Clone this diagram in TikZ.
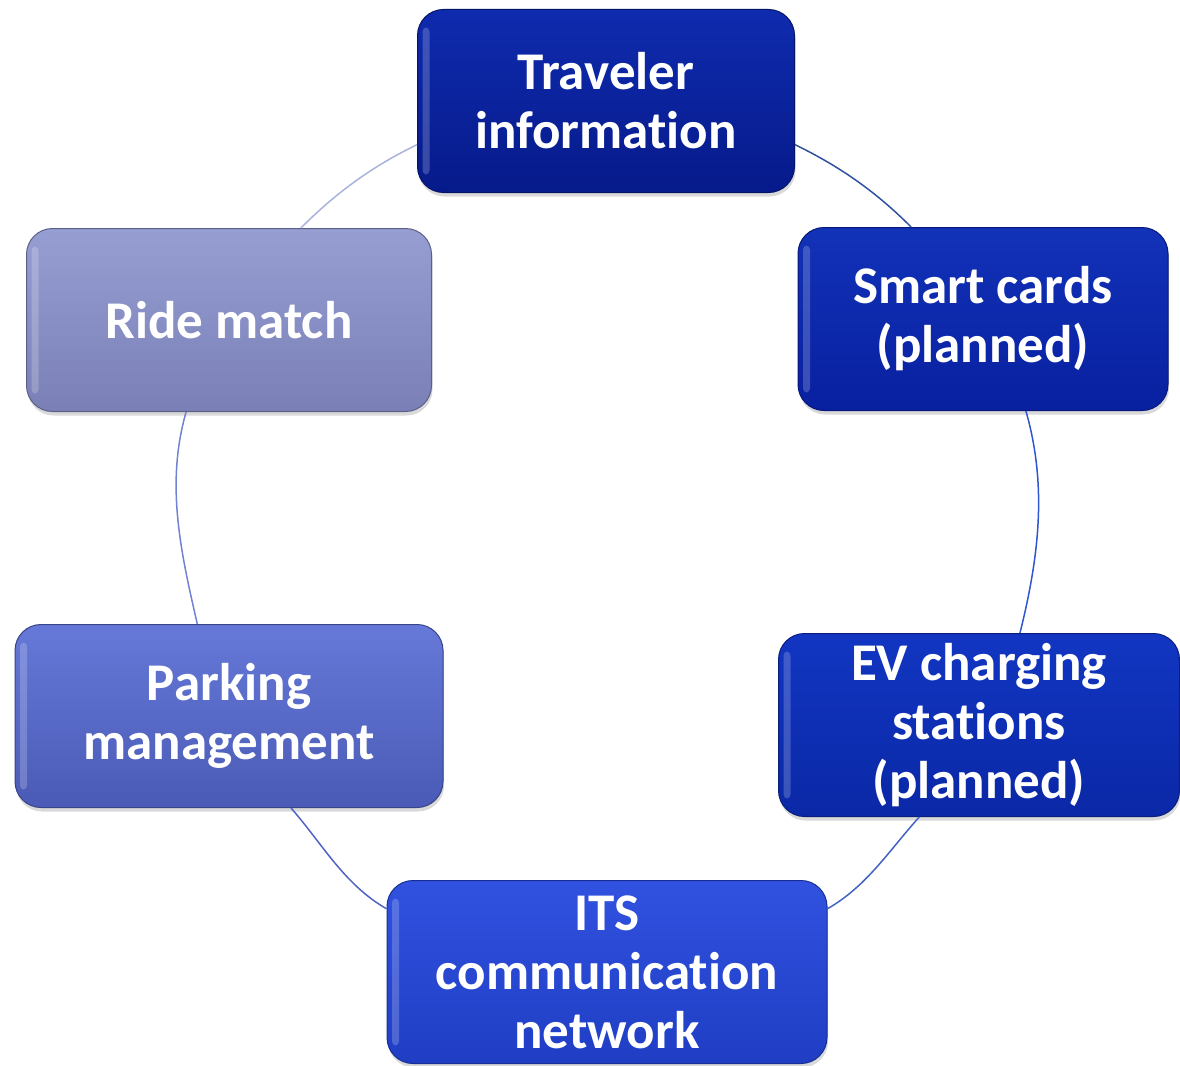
\documentclass[tikz,border=0pt]{standalone}
\usepackage{fontspec}
\setmainfont{Carlito}[RawFeature={-liga}]
\usetikzlibrary{positioning,shadows}

\definecolor{travtop}{HTML}{0F2BAE}
\definecolor{travbot}{HTML}{061A8A}
\definecolor{smarttop}{HTML}{1232B8}
\definecolor{smartbot}{HTML}{0820A0}
\definecolor{evtop}{HTML}{1236C2}
\definecolor{evbot}{HTML}{0A28A6}
\definecolor{itstop}{HTML}{3152E0}
\definecolor{itsbot}{HTML}{1F3EC4}
\definecolor{parktop}{HTML}{6679D8}
\definecolor{parkbot}{HTML}{4A5AB6}
\definecolor{ridetop}{HTML}{969ED2}
\definecolor{ridebot}{HTML}{7A80B6}
\definecolor{ringa}{HTML}{3050A0}
\definecolor{ringb}{HTML}{2F55D0}
\definecolor{ringc}{HTML}{4262C4}
\definecolor{ringd}{HTML}{5064C2}
\definecolor{ringe}{HTML}{7282D2}
\definecolor{ringf}{HTML}{AAB2DC}

\tikzset{
  cyclebox/.style 2 args={rectangle, rounded corners=26pt, draw=#2!75!black, line width=1pt,
    top color=#1, bottom color=#2, text=white, align=center,
    font=\fontsize{53}{59}\selectfont\bfseries,
    minimum height=183pt, inner sep=0pt,
    drop shadow={shadow xshift=1pt, shadow yshift=-4pt, opacity=.3},
    path picture={\fill[white, opacity=.2, rounded corners=4pt]
      ([xshift=5pt, yshift=-18pt]path picture bounding box.north west) rectangle
      ([xshift=12pt, yshift=18pt]path picture bounding box.south west);}},
  ring/.style={draw=#1, line width=1.5pt, looseness=0.9},
}

\begin{document}
\begin{tikzpicture}[x=1pt, y=1pt]
  \useasboundingbox (0,0) rectangle (1180,-1065);

  % the six boxes of the cycle
  \node[cyclebox={travtop}{travbot}, minimum width=377pt] (trav) at (606,-101) {Traveler\\information};
  \node[cyclebox={smarttop}{smartbot}, minimum width=370pt] (smart) at (983,-319) {Smart cards\\(planned)};
  \node[cyclebox={evtop}{evbot}, minimum width=401pt] (ev) at (979,-725) {EV charging\\stations\\(planned)};
  \node[cyclebox={itstop}{itsbot}, minimum width=440pt] (its) at (607,-972) {ITS\\communication\\network};
  \node[cyclebox={parktop}{parkbot}, minimum width=428pt] (park) at (229,-716) {Parking\\management};
  \node[cyclebox={ridetop}{ridebot}, minimum width=405pt] (ride) at (229,-320) {Ride match};

  % ring segments
  \draw[ring=ringa] (trav.-13) to[out=-26, in=135] (smart.128);
  \draw[ring=ringb] (smart.-65) to[out=-74, in=76] (ev.66);
  \draw[ring=ringc] (ev.237) to[out=-132, in=30] (its.16);
  \draw[ring=ringd] (its.164) to[out=150, in=-49] (park.-56);
  \draw[ring=ringe] (park.109) to[out=103, in=-106] (ride.245);
  \draw[ring=ringf] (ride.52) to[out=45, in=206] (trav.193);
\end{tikzpicture}
\end{document}
